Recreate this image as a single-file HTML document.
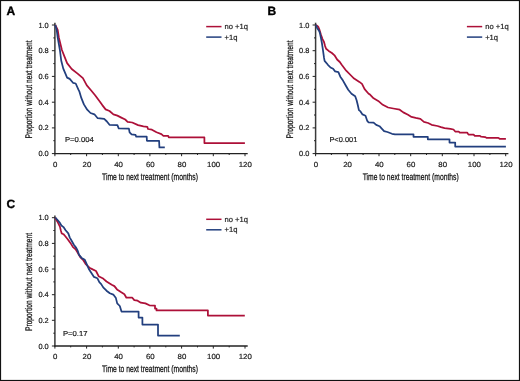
<!DOCTYPE html>
<html><head><meta charset="utf-8"><style>
html,body{margin:0;padding:0;background:#fff;}
svg{display:block;will-change:transform;}
text{font-family:"Liberation Sans",sans-serif;fill:#1a1a1a;text-rendering:geometricPrecision;}
.tk{font-size:7.4px;stroke:#1a1a1a;stroke-width:0.18px;}
.tt{font-size:9.6px;fill:#111;stroke:#111;stroke-width:0.25px;}
.lg{font-size:7.6px;stroke:#1a1a1a;stroke-width:0.18px;}
.pv{font-size:7.2px;stroke:#1a1a1a;stroke-width:0.18px;}
.lb{font-size:12px;font-weight:bold;fill:#000;stroke:#000;stroke-width:0.35px;}
</style></head><body>
<svg width="520" height="381" viewBox="0 0 520 381">
<rect x="0" y="0" width="520" height="381" fill="#fff"/>
<line x1="54.9" y1="22.7" x2="54.9" y2="154.2" stroke="#3a3a3a" stroke-width="1.5"/>
<line x1="54.3" y1="153.6" x2="247.7" y2="153.6" stroke="#222" stroke-width="1.3"/>
<line x1="51.9" y1="153.6" x2="54.9" y2="153.6" stroke="#222" stroke-width="1"/>
<text transform="translate(48.70,156.20) scale(1.0,1)" class="tk" text-anchor="end">0.0</text>
<line x1="53.3" y1="140.7" x2="54.9" y2="140.7" stroke="#222" stroke-width="1"/>
<line x1="51.9" y1="127.9" x2="54.9" y2="127.9" stroke="#222" stroke-width="1"/>
<text transform="translate(48.70,130.48) scale(1.0,1)" class="tk" text-anchor="end">0.2</text>
<line x1="53.3" y1="115.0" x2="54.9" y2="115.0" stroke="#222" stroke-width="1"/>
<line x1="51.9" y1="102.2" x2="54.9" y2="102.2" stroke="#222" stroke-width="1"/>
<text transform="translate(48.70,104.76) scale(1.0,1)" class="tk" text-anchor="end">0.4</text>
<line x1="53.3" y1="89.3" x2="54.9" y2="89.3" stroke="#222" stroke-width="1"/>
<line x1="51.9" y1="76.4" x2="54.9" y2="76.4" stroke="#222" stroke-width="1"/>
<text transform="translate(48.70,79.04) scale(1.0,1)" class="tk" text-anchor="end">0.6</text>
<line x1="53.3" y1="63.6" x2="54.9" y2="63.6" stroke="#222" stroke-width="1"/>
<line x1="51.9" y1="50.7" x2="54.9" y2="50.7" stroke="#222" stroke-width="1"/>
<text transform="translate(48.70,53.32) scale(1.0,1)" class="tk" text-anchor="end">0.8</text>
<line x1="53.3" y1="37.9" x2="54.9" y2="37.9" stroke="#222" stroke-width="1"/>
<line x1="51.9" y1="25.0" x2="54.9" y2="25.0" stroke="#222" stroke-width="1"/>
<text transform="translate(48.70,27.60) scale(1.0,1)" class="tk" text-anchor="end">1.0</text>
<line x1="54.9" y1="153.6" x2="54.9" y2="156.2" stroke="#222" stroke-width="1"/>
<text transform="translate(55.20,166.90) scale(1.06,1)" class="tk" text-anchor="middle">0</text>
<line x1="70.7" y1="153.6" x2="70.7" y2="155.0" stroke="#222" stroke-width="1"/>
<line x1="86.6" y1="153.6" x2="86.6" y2="156.2" stroke="#222" stroke-width="1"/>
<text transform="translate(86.88,166.90) scale(1.06,1)" class="tk" text-anchor="middle">20</text>
<line x1="102.4" y1="153.6" x2="102.4" y2="155.0" stroke="#222" stroke-width="1"/>
<line x1="118.3" y1="153.6" x2="118.3" y2="156.2" stroke="#222" stroke-width="1"/>
<text transform="translate(118.57,166.90) scale(1.06,1)" class="tk" text-anchor="middle">40</text>
<line x1="134.1" y1="153.6" x2="134.1" y2="155.0" stroke="#222" stroke-width="1"/>
<line x1="149.9" y1="153.6" x2="149.9" y2="156.2" stroke="#222" stroke-width="1"/>
<text transform="translate(150.25,166.90) scale(1.06,1)" class="tk" text-anchor="middle">60</text>
<line x1="165.8" y1="153.6" x2="165.8" y2="155.0" stroke="#222" stroke-width="1"/>
<line x1="181.6" y1="153.6" x2="181.6" y2="156.2" stroke="#222" stroke-width="1"/>
<text transform="translate(181.93,166.90) scale(1.06,1)" class="tk" text-anchor="middle">80</text>
<line x1="197.5" y1="153.6" x2="197.5" y2="155.0" stroke="#222" stroke-width="1"/>
<line x1="213.3" y1="153.6" x2="213.3" y2="156.2" stroke="#222" stroke-width="1"/>
<text transform="translate(213.62,166.90) scale(1.06,1)" class="tk" text-anchor="middle">100</text>
<line x1="229.2" y1="153.6" x2="229.2" y2="155.0" stroke="#222" stroke-width="1"/>
<line x1="245.0" y1="153.6" x2="245.0" y2="156.2" stroke="#222" stroke-width="1"/>
<text transform="translate(245.30,166.90) scale(1.06,1)" class="tk" text-anchor="middle">120</text>
<text x="150.0" y="179.9" class="tt" text-anchor="middle" textLength="96" lengthAdjust="spacingAndGlyphs">Time to next treatment (months)</text>
<text transform="translate(32.3,89.4) rotate(-90)" class="tt" text-anchor="middle" textLength="98" lengthAdjust="spacingAndGlyphs">Proportion without next treatment</text>
<line x1="206.2" y1="26.6" x2="221.5" y2="26.6" stroke="#ad1038" stroke-width="1.5"/>
<line x1="206.2" y1="37.1" x2="221.5" y2="37.1" stroke="#223f7e" stroke-width="1.5"/>
<text x="224.5" y="29.2" class="lg">no +1q</text>
<text x="224.5" y="39.7" class="lg">+1q</text>
<text transform="translate(64.90,142.00) scale(1.07,1)" class="pv">P=0.004</text>
<text x="6.5" y="14.9" class="lb">A</text>
<line x1="315.6" y1="22.7" x2="315.6" y2="154.2" stroke="#3a3a3a" stroke-width="1.5"/>
<line x1="315.0" y1="153.6" x2="508.4" y2="153.6" stroke="#222" stroke-width="1.3"/>
<line x1="312.6" y1="153.6" x2="315.6" y2="153.6" stroke="#222" stroke-width="1"/>
<text transform="translate(309.40,156.20) scale(1.0,1)" class="tk" text-anchor="end">0.0</text>
<line x1="314.0" y1="140.7" x2="315.6" y2="140.7" stroke="#222" stroke-width="1"/>
<line x1="312.6" y1="127.9" x2="315.6" y2="127.9" stroke="#222" stroke-width="1"/>
<text transform="translate(309.40,130.48) scale(1.0,1)" class="tk" text-anchor="end">0.2</text>
<line x1="314.0" y1="115.0" x2="315.6" y2="115.0" stroke="#222" stroke-width="1"/>
<line x1="312.6" y1="102.2" x2="315.6" y2="102.2" stroke="#222" stroke-width="1"/>
<text transform="translate(309.40,104.76) scale(1.0,1)" class="tk" text-anchor="end">0.4</text>
<line x1="314.0" y1="89.3" x2="315.6" y2="89.3" stroke="#222" stroke-width="1"/>
<line x1="312.6" y1="76.4" x2="315.6" y2="76.4" stroke="#222" stroke-width="1"/>
<text transform="translate(309.40,79.04) scale(1.0,1)" class="tk" text-anchor="end">0.6</text>
<line x1="314.0" y1="63.6" x2="315.6" y2="63.6" stroke="#222" stroke-width="1"/>
<line x1="312.6" y1="50.7" x2="315.6" y2="50.7" stroke="#222" stroke-width="1"/>
<text transform="translate(309.40,53.32) scale(1.0,1)" class="tk" text-anchor="end">0.8</text>
<line x1="314.0" y1="37.9" x2="315.6" y2="37.9" stroke="#222" stroke-width="1"/>
<line x1="312.6" y1="25.0" x2="315.6" y2="25.0" stroke="#222" stroke-width="1"/>
<text transform="translate(309.40,27.60) scale(1.0,1)" class="tk" text-anchor="end">1.0</text>
<line x1="315.6" y1="153.6" x2="315.6" y2="156.2" stroke="#222" stroke-width="1"/>
<text transform="translate(315.90,166.90) scale(1.06,1)" class="tk" text-anchor="middle">0</text>
<line x1="331.4" y1="153.6" x2="331.4" y2="155.0" stroke="#222" stroke-width="1"/>
<line x1="347.3" y1="153.6" x2="347.3" y2="156.2" stroke="#222" stroke-width="1"/>
<text transform="translate(347.58,166.90) scale(1.06,1)" class="tk" text-anchor="middle">20</text>
<line x1="363.1" y1="153.6" x2="363.1" y2="155.0" stroke="#222" stroke-width="1"/>
<line x1="379.0" y1="153.6" x2="379.0" y2="156.2" stroke="#222" stroke-width="1"/>
<text transform="translate(379.27,166.90) scale(1.06,1)" class="tk" text-anchor="middle">40</text>
<line x1="394.8" y1="153.6" x2="394.8" y2="155.0" stroke="#222" stroke-width="1"/>
<line x1="410.7" y1="153.6" x2="410.7" y2="156.2" stroke="#222" stroke-width="1"/>
<text transform="translate(410.95,166.90) scale(1.06,1)" class="tk" text-anchor="middle">60</text>
<line x1="426.5" y1="153.6" x2="426.5" y2="155.0" stroke="#222" stroke-width="1"/>
<line x1="442.3" y1="153.6" x2="442.3" y2="156.2" stroke="#222" stroke-width="1"/>
<text transform="translate(442.63,166.90) scale(1.06,1)" class="tk" text-anchor="middle">80</text>
<line x1="458.2" y1="153.6" x2="458.2" y2="155.0" stroke="#222" stroke-width="1"/>
<line x1="474.0" y1="153.6" x2="474.0" y2="156.2" stroke="#222" stroke-width="1"/>
<text transform="translate(474.32,166.90) scale(1.06,1)" class="tk" text-anchor="middle">100</text>
<line x1="489.9" y1="153.6" x2="489.9" y2="155.0" stroke="#222" stroke-width="1"/>
<line x1="505.7" y1="153.6" x2="505.7" y2="156.2" stroke="#222" stroke-width="1"/>
<text transform="translate(506.00,166.90) scale(1.06,1)" class="tk" text-anchor="middle">120</text>
<text x="410.7" y="179.9" class="tt" text-anchor="middle" textLength="96" lengthAdjust="spacingAndGlyphs">Time to next treatment (months)</text>
<text transform="translate(293.0,89.4) rotate(-90)" class="tt" text-anchor="middle" textLength="98" lengthAdjust="spacingAndGlyphs">Proportion without next treatment</text>
<line x1="466.9" y1="26.6" x2="482.2" y2="26.6" stroke="#ad1038" stroke-width="1.5"/>
<line x1="466.9" y1="37.1" x2="482.2" y2="37.1" stroke="#223f7e" stroke-width="1.5"/>
<text x="485.2" y="29.2" class="lg">no +1q</text>
<text x="485.2" y="39.7" class="lg">+1q</text>
<text transform="translate(329.40,141.70) scale(1.035,1)" class="pv">P&lt;0.001</text>
<text x="267.5" y="15.1" class="lb">B</text>
<line x1="54.9" y1="215.4" x2="54.9" y2="346.6" stroke="#3a3a3a" stroke-width="1.5"/>
<line x1="54.3" y1="346.0" x2="247.7" y2="346.0" stroke="#222" stroke-width="1.3"/>
<line x1="51.9" y1="346.0" x2="54.9" y2="346.0" stroke="#222" stroke-width="1"/>
<text transform="translate(48.70,348.60) scale(1.0,1)" class="tk" text-anchor="end">0.0</text>
<line x1="53.3" y1="333.2" x2="54.9" y2="333.2" stroke="#222" stroke-width="1"/>
<line x1="51.9" y1="320.3" x2="54.9" y2="320.3" stroke="#222" stroke-width="1"/>
<text transform="translate(48.70,322.94) scale(1.0,1)" class="tk" text-anchor="end">0.2</text>
<line x1="53.3" y1="307.5" x2="54.9" y2="307.5" stroke="#222" stroke-width="1"/>
<line x1="51.9" y1="294.7" x2="54.9" y2="294.7" stroke="#222" stroke-width="1"/>
<text transform="translate(48.70,297.28) scale(1.0,1)" class="tk" text-anchor="end">0.4</text>
<line x1="53.3" y1="281.9" x2="54.9" y2="281.9" stroke="#222" stroke-width="1"/>
<line x1="51.9" y1="269.0" x2="54.9" y2="269.0" stroke="#222" stroke-width="1"/>
<text transform="translate(48.70,271.62) scale(1.0,1)" class="tk" text-anchor="end">0.6</text>
<line x1="53.3" y1="256.2" x2="54.9" y2="256.2" stroke="#222" stroke-width="1"/>
<line x1="51.9" y1="243.4" x2="54.9" y2="243.4" stroke="#222" stroke-width="1"/>
<text transform="translate(48.70,245.96) scale(1.0,1)" class="tk" text-anchor="end">0.8</text>
<line x1="53.3" y1="230.5" x2="54.9" y2="230.5" stroke="#222" stroke-width="1"/>
<line x1="51.9" y1="217.7" x2="54.9" y2="217.7" stroke="#222" stroke-width="1"/>
<text transform="translate(48.70,220.30) scale(1.0,1)" class="tk" text-anchor="end">1.0</text>
<line x1="54.9" y1="346.0" x2="54.9" y2="348.6" stroke="#222" stroke-width="1"/>
<text transform="translate(55.20,359.30) scale(1.06,1)" class="tk" text-anchor="middle">0</text>
<line x1="70.7" y1="346.0" x2="70.7" y2="347.4" stroke="#222" stroke-width="1"/>
<line x1="86.6" y1="346.0" x2="86.6" y2="348.6" stroke="#222" stroke-width="1"/>
<text transform="translate(86.88,359.30) scale(1.06,1)" class="tk" text-anchor="middle">20</text>
<line x1="102.4" y1="346.0" x2="102.4" y2="347.4" stroke="#222" stroke-width="1"/>
<line x1="118.3" y1="346.0" x2="118.3" y2="348.6" stroke="#222" stroke-width="1"/>
<text transform="translate(118.57,359.30) scale(1.06,1)" class="tk" text-anchor="middle">40</text>
<line x1="134.1" y1="346.0" x2="134.1" y2="347.4" stroke="#222" stroke-width="1"/>
<line x1="149.9" y1="346.0" x2="149.9" y2="348.6" stroke="#222" stroke-width="1"/>
<text transform="translate(150.25,359.30) scale(1.06,1)" class="tk" text-anchor="middle">60</text>
<line x1="165.8" y1="346.0" x2="165.8" y2="347.4" stroke="#222" stroke-width="1"/>
<line x1="181.6" y1="346.0" x2="181.6" y2="348.6" stroke="#222" stroke-width="1"/>
<text transform="translate(181.93,359.30) scale(1.06,1)" class="tk" text-anchor="middle">80</text>
<line x1="197.5" y1="346.0" x2="197.5" y2="347.4" stroke="#222" stroke-width="1"/>
<line x1="213.3" y1="346.0" x2="213.3" y2="348.6" stroke="#222" stroke-width="1"/>
<text transform="translate(213.62,359.30) scale(1.06,1)" class="tk" text-anchor="middle">100</text>
<line x1="229.2" y1="346.0" x2="229.2" y2="347.4" stroke="#222" stroke-width="1"/>
<line x1="245.0" y1="346.0" x2="245.0" y2="348.6" stroke="#222" stroke-width="1"/>
<text transform="translate(245.30,359.30) scale(1.06,1)" class="tk" text-anchor="middle">120</text>
<text x="150.0" y="372.3" class="tt" text-anchor="middle" textLength="96" lengthAdjust="spacingAndGlyphs">Time to next treatment (months)</text>
<text transform="translate(32.3,282.0) rotate(-90)" class="tt" text-anchor="middle" textLength="98" lengthAdjust="spacingAndGlyphs">Proportion without next treatment</text>
<line x1="206.2" y1="219.3" x2="221.5" y2="219.3" stroke="#ad1038" stroke-width="1.5"/>
<line x1="206.2" y1="229.8" x2="221.5" y2="229.8" stroke="#223f7e" stroke-width="1.5"/>
<text x="224.5" y="221.9" class="lg">no +1q</text>
<text x="224.5" y="232.4" class="lg">+1q</text>
<text transform="translate(62.90,335.60) scale(1.07,1)" class="pv">P=0.17</text>
<text x="6.6" y="207.6" class="lb">C</text>
<polyline fill="none" stroke="#ad1038" stroke-width="1.75" stroke-linejoin="round" points="55.3,25.0 57.7,29.9 58.9,37.7 61.9,50.0 64.5,56.6 67.1,63.1 71.7,69.0 77.6,73.6 82.9,78.2 86.8,85.4 91.4,90.7 95.1,95.2 99.0,100.5 102.3,105.1 105.6,109.4 109.5,111.0 113.4,114.3 117.4,115.6 121.3,117.6 125.2,119.5 127.6,121.8 132.2,122.5 138.1,125.1 143.4,126.4 147.3,126.8 148.0,129.0 151.9,129.7 156.5,132.3 161.4,134.1 163.4,135.8 168.2,135.8 168.7,137.3 204.4,137.4 204.4,143.0 244.9,143.0"/>
<polyline fill="none" stroke="#223f7e" stroke-width="1.75" stroke-linejoin="round" points="55.3,25.0 56.7,29.9 57.7,37.7 59.9,50.0 61.2,60.5 63.2,68.4 67.1,77.6 69.7,78.9 73.0,82.8 75.7,83.5 78.3,89.4 79.3,91.3 81.3,97.9 83.9,104.4 87.2,109.7 90.5,113.0 94.4,114.3 97.7,118.2 104.2,118.9 106.9,121.5 109.5,124.8 117.4,125.2 118.7,128.4 128.9,128.6 129.6,132.3 131.6,134.3 135.5,134.9 136.2,136.6 146.7,136.6 146.9,140.8 159.1,140.8 159.4,147.4 164.8,147.4"/>
<polyline fill="none" stroke="#ad1038" stroke-width="1.75" stroke-linejoin="round" points="316.0,24.9 318.2,26.7 319.3,29.3 320.9,34.6 322.4,38.8 324.0,42.0 325.1,46.1 326.1,48.8 328.7,50.9 331.9,53.0 334.5,55.3 337.1,59.5 339.8,62.0 341.7,64.8 346.2,70.7 351.5,76.0 354.1,78.6 359.4,81.9 362.0,83.9 364.6,89.1 368.6,93.7 370.0,94.6 373.6,98.3 378.2,100.9 382.8,104.8 388.1,107.5 393.3,108.5 399.7,109.7 403.3,112.4 408.0,114.8 411.5,116.9 415.7,117.9 420.4,118.9 423.9,121.8 428.1,123.0 431.6,124.8 437.5,126.0 441.0,127.2 444.6,128.1 450.5,128.9 453.5,129.5 455.2,131.5 458.7,131.5 459.8,132.7 467.3,132.7 468.5,134.6 473.6,134.6 474.8,135.9 480.0,135.9 481.1,136.7 485.2,137.1 486.7,137.9 498.4,137.9 499.6,138.8 505.9,138.8"/>
<polyline fill="none" stroke="#223f7e" stroke-width="1.75" stroke-linejoin="round" points="316.0,24.9 317.2,28.3 318.8,30.4 319.8,32.5 320.9,37.7 321.9,43.0 323.0,50.3 324.0,57.7 324.6,60.9 327.9,64.8 330.5,67.5 333.1,68.8 335.1,71.4 338.4,72.1 340.3,76.7 343.0,80.6 345.6,85.2 348.2,89.8 351.5,93.7 355.2,96.3 356.6,100.2 357.9,105.5 358.9,110.1 360.5,111.4 362.5,114.4 365.5,115.7 367.1,120.6 368.4,122.3 373.6,122.6 376.2,124.9 379.5,126.2 382.2,129.1 384.1,131.1 387.4,132.0 392.0,133.8 395.0,134.4 413.5,134.4 413.5,136.8 427.8,136.8 427.8,139.3 449.5,139.3 449.5,142.6 455.2,142.6 455.2,146.5 505.9,146.5"/>
<polyline fill="none" stroke="#ad1038" stroke-width="1.75" stroke-linejoin="round" points="55.3,217.6 55.7,218.7 57.8,222.4 59.9,226.6 60.9,230.8 61.7,233.4 63.5,234.2 65.1,236.0 67.7,239.2 70.4,242.9 73.0,247.1 75.6,249.2 77.6,252.5 80.2,257.2 83.5,260.5 85.5,263.8 89.4,267.7 92.7,269.4 96.0,271.0 98.6,276.2 102.6,278.2 106.5,281.5 111.7,284.8 114.4,286.1 117.0,289.4 120.9,292.0 124.4,294.2 126.4,297.7 132.3,297.7 134.3,300.1 137.6,300.7 140.8,302.7 145.4,303.4 149.4,305.3 155.0,305.6 155.0,308.5 156.5,308.5 156.5,310.4 207.9,310.4 207.9,315.6 244.8,315.6"/>
<polyline fill="none" stroke="#223f7e" stroke-width="1.75" stroke-linejoin="round" points="55.3,217.5 57.8,220.3 59.9,222.9 61.4,225.5 63.5,227.1 65.6,230.3 68.3,233.4 69.8,237.6 71.9,241.3 74.0,245.0 76.1,247.6 77.7,250.7 78.9,254.6 81.6,257.9 84.8,259.8 86.8,264.4 88.8,269.0 91.4,273.0 94.0,276.9 97.3,278.2 99.3,282.2 101.2,284.1 103.2,287.4 106.5,290.7 109.8,293.3 113.3,294.6 115.9,298.1 117.2,303.4 119.8,306.0 121.5,311.6 138.6,311.6 138.6,317.5 142.4,317.5 142.4,324.6 158.0,324.6 158.0,335.5 179.8,335.5"/>
<rect x="0.5" y="0.5" width="519" height="380" fill="none" stroke="#111" stroke-width="1.2"/>
</svg>
</body></html>
